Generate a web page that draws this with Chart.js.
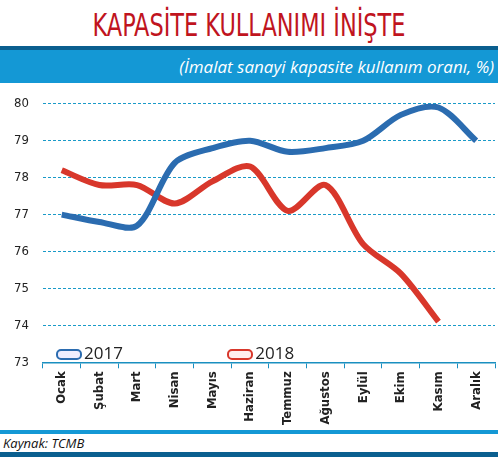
<!DOCTYPE html>
<html><head><meta charset="utf-8">
<script src="https://cdn.jsdelivr.net/npm/chart.js@4"></script>
<style>
body{margin:0;width:498px;height:461px;background:#fff;font-family:"Open Sans",sans-serif;overflow:hidden;position:relative}
#title{position:absolute;top:6px;left:0;width:498px;text-align:center;color:#c0141e;font-family:"DejaVu Sans Condensed","DejaVu Sans",sans-serif;font-size:32px;transform:scaleX(0.78);}
#bar1{position:absolute;top:46px;left:0;width:498px;height:4px;background:#0a5f8f}
#band{position:absolute;top:50px;left:0;width:498px;height:33px;background:#1498d5;color:#fff;font-style:italic;font-size:17px;text-align:right;line-height:33px}
#band span{padding-right:4px}
#wrap{position:absolute;top:82px;left:0;width:498px;height:346px}
#leg{position:absolute;top:341px;left:56px;font-size:17px;color:#222}
#leg i{display:inline-block;width:22px;height:7px;border-radius:5px;vertical-align:middle;margin-right:2px}
#bar2{position:absolute;top:430px;left:0;width:498px;height:4px;background:#1498d5}
#src{position:absolute;top:434px;left:3px;font-style:italic;font-size:13px;color:#111}
#bar3{position:absolute;top:452px;left:0;width:498px;height:5px;background:#0a5f8f}
</style></head><body>
<div id="title">KAPASİTE KULLANIMI İNİŞTE</div>
<div id="bar1"></div>
<div id="band"><span>(İmalat sanayi kapasite kullanım oranı, %)</span></div>
<div id="wrap"><canvas id="c"></canvas></div>
<div id="leg"><i style="border:2px solid #2b6cb0;background:#eef"></i>2017 <span style="display:inline-block;width:100px"></span><i style="border:2px solid #d8372b;background:#fee"></i>2018</div>
<div id="bar2"></div>
<div id="src">Kaynak: TCMB</div>
<div id="bar3"></div>
<script>
var months = ["Ocak","Şubat","Mart","Nisan","Mayıs","Haziran","Temmuz","Ağustos","Eylül","Ekim","Kasım","Aralık"];
var y2017 = [77.0, 76.8, 76.7, 78.4, 78.8, 79.0, 78.7, 78.8, 79.0, 79.7, 79.9, 79.0];
var y2018 = [78.2, 77.8, 77.8, 77.3, 77.9, 78.3, 77.1, 77.8, 76.2, 75.4, 74.1, null];
var yTicks = [73, 74, 75, 76, 77, 78, 79, 80];

function ds(label, data, color, w) {
  return {label: label, data: data, borderColor: color, borderWidth: w, pointRadius: 0, tension: 0.3, fill: false};
}
new Chart(document.getElementById("c"), {
  type: "line",
  data: {
    labels: months,
    datasets: [
      ds("2017", y2017, "#2b6cb0", 6), ds("2017w", y2017, "#e6eef8", 2),
      ds("2018", y2018, "#d8372b", 6), ds("2018w", y2018, "#fbe3df", 2)
    ]
  },
  options: {
    responsive: true, maintainAspectRatio: false, animation: false,
    layout: {padding: {right: 3, top: 6}},
    plugins: {legend: {display: false}, tooltip: {enabled: false}},
    scales: {
      x: {
        offset: true,
        grid: {display: true, drawOnChartArea: false, offset: true, color: "#1a8fc0", tickLength: 6},
        border: {color: "#1a8fc0", dash: [3, 2], width: 1.5},
        ticks: {color: "#222", maxRotation: 90, minRotation: 90, font: {family: "DejaVu Sans Condensed", size: 13, weight: "bold"}}
      },
      y: {
        min: 73, max: 80,
        afterBuildTicks: function (a) { a.ticks = yTicks.map(function (v) { return {value: v}; }); },
        grid: {color: "#1a9ac8", drawTicks: false},
        border: {display: true, width: 0, color: "rgba(0,0,0,0)", dash: [3, 2]},
        ticks: {color: "#222", padding: 14, font: {family: "DejaVu Sans Condensed", size: 13}}
      }
    }
  }
});
</script>
</body></html>
